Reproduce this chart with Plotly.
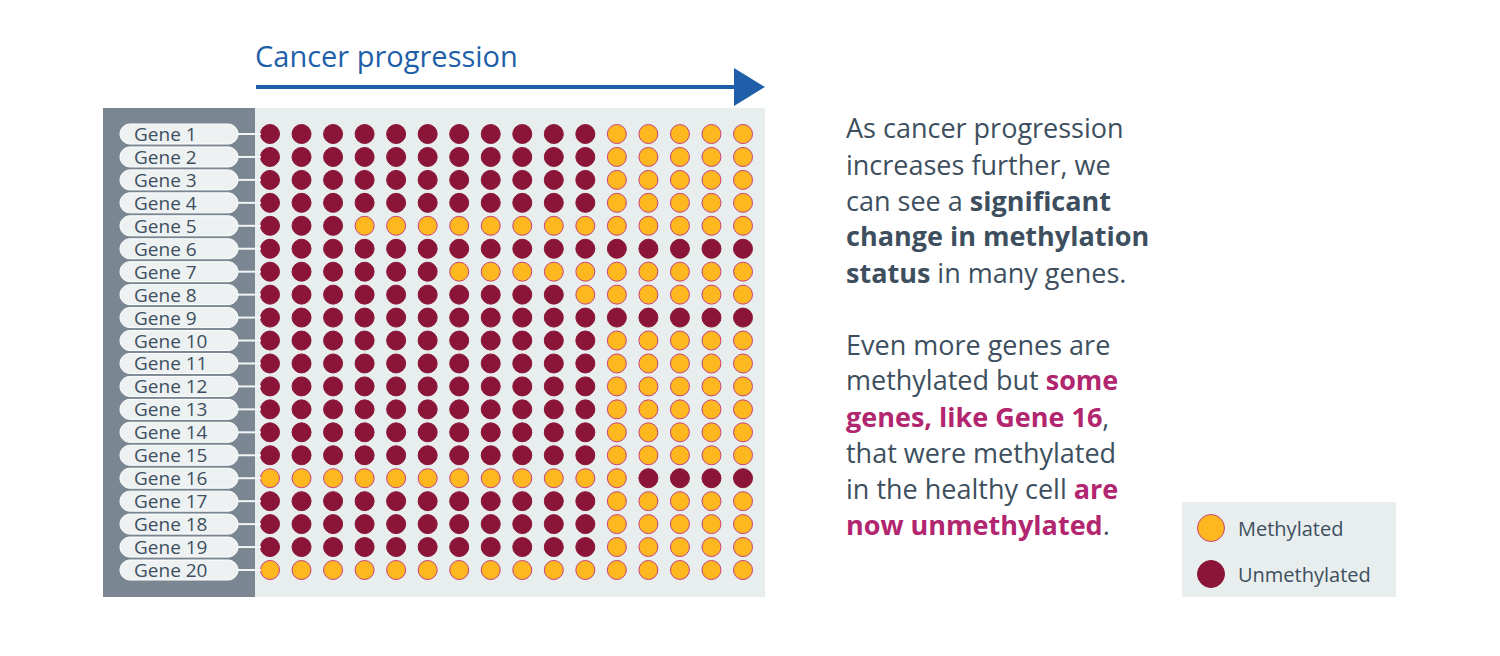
import plotly.graph_objects as go

# ---------------- data ----------------
genes = ["Gene 1", "Gene 2", "Gene 3", "Gene 4", "Gene 5", "Gene 6", "Gene 7",
         "Gene 8", "Gene 9", "Gene 10", "Gene 11", "Gene 12", "Gene 13", "Gene 14",
         "Gene 15", "Gene 16", "Gene 17", "Gene 18", "Gene 19", "Gene 20"]
stages = [1, 2, 3, 4, 5, 6, 7, 8, 9, 10, 11, 12, 13, 14, 15, 16]
# M = methylated, U = unmethylated, one character per progression stage
status = [
    "UUUUUUUUUUUMMMMM",  # Gene 1
    "UUUUUUUUUUUMMMMM",  # Gene 2
    "UUUUUUUUUUUMMMMM",  # Gene 3
    "UUUUUUUUUUUMMMMM",  # Gene 4
    "UUUMMMMMMMMMMMMM",  # Gene 5
    "UUUUUUUUUUUUUUUU",  # Gene 6
    "UUUUUUMMMMMMMMMM",  # Gene 7
    "UUUUUUUUUUMMMMMM",  # Gene 8
    "UUUUUUUUUUUUUUUU",  # Gene 9
    "UUUUUUUUUUUMMMMM",  # Gene 10
    "UUUUUUUUUUUMMMMM",  # Gene 11
    "UUUUUUUUUUUMMMMM",  # Gene 12
    "UUUUUUUUUUUMMMMM",  # Gene 13
    "UUUUUUUUUUUMMMMM",  # Gene 14
    "UUUUUUUUUUUMMMMM",  # Gene 15
    "MMMMMMMMMMMMUUUU",  # Gene 16
    "UUUUUUUUUUUMMMMM",  # Gene 17
    "UUUUUUUUUUUMMMMM",  # Gene 18
    "UUUUUUUUUUUMMMMM",  # Gene 19
    "MMMMMMMMMMMMMMMM",  # Gene 20
]
legend_labels = ["Methylated", "Unmethylated"]
title_text = "Cancer progression"
MAG = "#b2256f"
para1 = ["As cancer progression",
         "increases further, we",
         "can see a <b>significant</b>",
         "<b>change in methylation</b>",
         "<b>status</b> in many genes."]
para2 = ["Even more genes are",
         f"methylated but <b><span style='color:{MAG}'>some</span></b>",
         f"<b><span style='color:{MAG}'>genes, like Gene 16</span></b>,",
         "that were methylated",
         f"in the healthy cell <b><span style='color:{MAG}'>are</span></b>",
         f"<b><span style='color:{MAG}'>now unmethylated</span></b>."]

# ---------------- style ----------------
W, H = 1500, 656
OFF = 8  # default page margin of the html body
C_SIDE = "#7a8792"
C_PANEL = "#e8edee"
C_TEXT = "#3d4f5e"
C_BLUE = "#1f5fa9"
C_MAROON = "#8a1538"
C_ORANGE = "#fdb71f"
C_ORANGE_LINE = "#c8417d"
FONT = "Open Sans"


def px(x):
    return (x - OFF) / W


def py(y):
    return 1 - (y - OFF) / H


rows = list(range(1, len(genes) + 1))

fig = go.Figure()

for code, name, col in [("M", "Methylated", C_ORANGE), ("U", "Unmethylated", C_MAROON)]:
    xs, ys, tx = [], [], []
    for r, g, s in zip(rows, genes, status):
        for st, ch in zip(stages, s):
            if ch == code:
                xs.append(st)
                ys.append(r)
                tx.append(g)
    fig.add_trace(go.Scatter(
        x=xs, y=ys, mode="markers", name=name, text=tx,
        marker=dict(size=19, color=col,
                    line=dict(color=C_ORANGE_LINE if code == "M" else col, width=1)),
        hovertemplate="%{text}<br>Stage %{x}<extra>" + name + "</extra>",
        showlegend=False))

shapes = []


def prect(x0, x1, y0, y1, color):
    return dict(type="rect", xref="paper", yref="paper", x0=px(x0), x1=px(x1),
                y0=py(y1), y1=py(y0), fillcolor=color, line=dict(width=0), layer="below")


shapes.append(prect(103, 255, 108, 597, C_SIDE))
shapes.append(prect(255, 765, 108, 597, C_PANEL))
shapes.append(prect(1182, 1396, 502, 597, C_PANEL))
# arrow
shapes.append(dict(type="line", xref="paper", yref="paper", x0=px(256), x1=px(740),
                   y0=py(87), y1=py(87), line=dict(color=C_BLUE, width=4)))
shapes.append(dict(type="path", xref="paper", yref="paper",
                   path=f"M{px(734)},{py(68)} L{px(765)},{py(87)} L{px(734)},{py(106)} Z",
                   fillcolor=C_BLUE, line=dict(width=0)))
# legend circles
leg_colors = [C_ORANGE, C_MAROON]
leg_lines = [C_ORANGE_LINE, C_MAROON]
leg_y = [528, 574]
for c, lc, yy in zip(leg_colors, leg_lines, leg_y):
    shapes.append(dict(type="circle", xref="paper", yref="paper",
                       x0=px(1211 - 13.5), x1=px(1211 + 13.5),
                       y0=py(yy + 13.5), y1=py(yy - 13.5),
                       fillcolor=c, line=dict(color=lc, width=1)))


def pill(x0, x1, yc, hx, hy):
    k = 0.5523
    return (f"M{x0+hx},{yc-hy} L{x1-hx},{yc-hy} "
            f"C{x1-hx+k*hx},{yc-hy} {x1},{yc-k*hy} {x1},{yc} "
            f"C{x1},{yc+k*hy} {x1-hx+k*hx},{yc+hy} {x1-hx},{yc+hy} "
            f"L{x0+hx},{yc+hy} "
            f"C{x0+hx-k*hx},{yc+hy} {x0},{yc+k*hy} {x0},{yc} "
            f"C{x0},{yc-k*hy} {x0+hx-k*hx},{yc-hy} {x0+hx},{yc-hy} Z")


annotations = []
row_px = (570 - 134) / 19.0
for r, g in zip(rows, genes):
    hy = 10.0 / row_px
    shapes.append(dict(type="line", xref="paper", yref="y", x0=px(236), x1=px(261),
                       y0=r, y1=r, line=dict(color="#f2f5f6", width=2)))
    shapes.append(dict(type="path", xref="paper", yref="y",
                       path=pill(px(120), px(238), r, 10 / W, hy),
                       fillcolor="#edf1f2", line=dict(color="#ffffff", width=1)))
    annotations.append(dict(x=px(132), y=r, xref="paper", yref="y", text=g, showarrow=False,
                            xanchor="left", yanchor="middle",
                            font=dict(family=FONT, size=19, color=C_TEXT)))

annotations.append(dict(x=px(253), y=py(56), xref="paper", yref="paper", text=title_text,
                        showarrow=False, xanchor="left", yanchor="middle",
                        font=dict(family=FONT, size=29, color=C_BLUE)))
for i, line in enumerate(para1):
    annotations.append(dict(x=px(844), y=py(128 + 36 * i), xref="paper", yref="paper",
                            text=line, showarrow=False, xanchor="left", yanchor="middle",
                            font=dict(family=FONT, size=27, color=C_TEXT)))
for i, line in enumerate(para2):
    annotations.append(dict(x=px(844), y=py(344 + 36 * i), xref="paper", yref="paper",
                            text=line, showarrow=False, xanchor="left", yanchor="middle",
                            font=dict(family=FONT, size=27, color=C_TEXT)))
for t, yy in zip(legend_labels, leg_y):
    annotations.append(dict(x=px(1236), y=py(yy), xref="paper", yref="paper", text=t,
                            showarrow=False, xanchor="left", yanchor="middle",
                            font=dict(family=FONT, size=20, color=C_TEXT)))

# axis mapping: columns 1..16 at px 270..743, rows 1..20 at px 134..570
col_px = (743 - 270) / 15.0
x_lo = 1 - (270 - 255) / col_px
x_hi = 16 + (765 - 743) / col_px
y_top = 1 - (134 - 108) / row_px
y_bot = 20 + (597 - 570) / row_px

hidden = dict(visible=False, showgrid=False, zeroline=False, fixedrange=True)
fig.update_layout(
    width=W, height=H, autosize=False,
    margin=dict(l=0, r=0, t=0, b=0, pad=0),
    paper_bgcolor="white", plot_bgcolor="rgba(0,0,0,0)",
    xaxis=dict(domain=[px(255), px(765)], range=[x_lo, x_hi], **hidden),
    yaxis=dict(domain=[py(597), py(108)], range=[y_bot, y_top], **hidden),
    shapes=shapes, annotations=annotations,
    font=dict(family=FONT),
)

fig.write_html("out.html")
